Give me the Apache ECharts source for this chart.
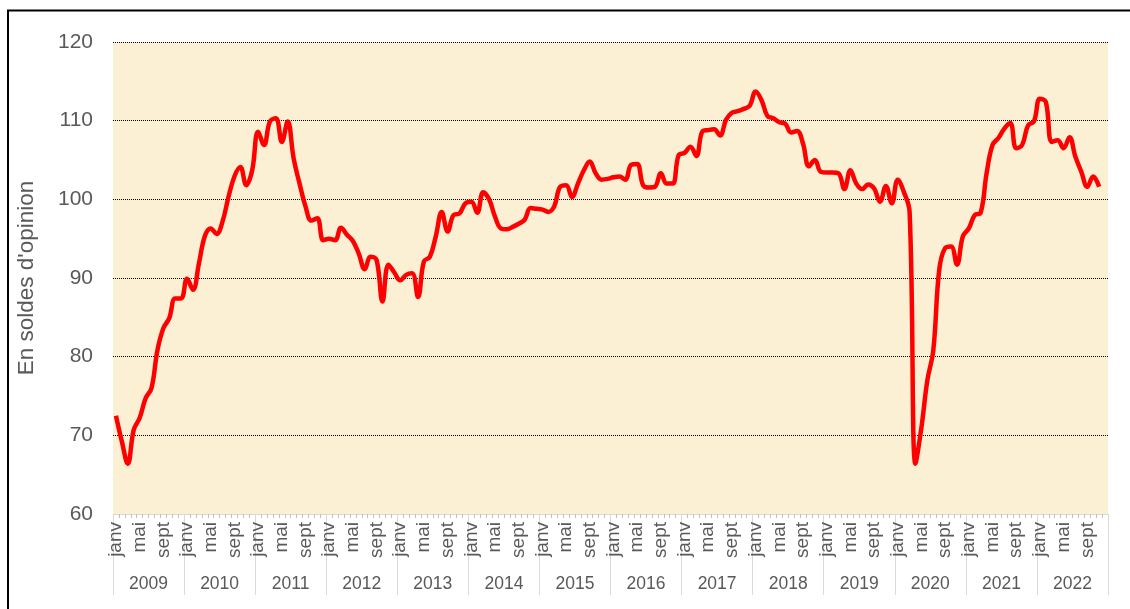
<!DOCTYPE html>
<html>
<head>
<meta charset="utf-8">
<script src="https://cdn.jsdelivr.net/npm/echarts@6/dist/echarts.min.js"></script>
<style>
html,body{margin:0;padding:0;background:#fff;}
#chart{width:1130px;height:609px;}
</style>
</head>
<body>
<div id="chart"></div>
<script>
const monthNames = ['janv','févr','mars','avr','mai','juin','juil','août','sept','oct','nov','déc'];
const years = ['2009','2010','2011','2012','2013','2014','2015','2016','2017','2018','2019','2020','2021','2022'];
const yTicks = [60, 70, 80, 90, 100, 110, 120];
const yTitle = "En soldes d'opinion";

const v2009 = [72.5, 69.2, 66.4, 70.7, 72.2, 74.7, 76.0, 80.8, 83.6, 84.9, 87.4, 87.4];
const v2010 = [89.9, 88.5, 91.8, 95.3, 96.3, 95.6, 97.2, 100.3, 102.9, 104.1, 101.8, 103.7];
const v2011 = [108.6, 106.9, 109.9, 110.3, 107.3, 109.9, 105.2, 102.0, 99.1, 97.3, 97.6, 94.8];
const v2012 = [95.0, 94.8, 96.4, 95.5, 94.7, 93.1, 91.1, 92.7, 92.3, 87.0, 91.7, 90.7];
const v2013 = [89.7, 90.4, 90.6, 87.6, 92.1, 92.7, 95.3, 98.4, 95.9, 98.0, 98.2, 99.5];
const v2014 = [99.7, 98.3, 100.9, 100.0, 97.8, 96.3, 96.2, 96.5, 96.9, 97.4, 98.9, 98.8];
const v2015 = [98.7, 98.4, 99.1, 101.6, 101.8, 100.3, 102.0, 103.7, 104.8, 103.3, 102.5, 102.6];
const v2016 = [102.8, 102.9, 102.5, 104.4, 104.5, 101.8, 101.5, 101.6, 103.3, 102.0, 102.0, 105.6];
const v2017 = [105.9, 106.7, 105.5, 108.6, 108.8, 108.9, 108.1, 110.1, 111.0, 111.2, 111.5, 111.9];
const v2018 = [113.7, 112.6, 110.6, 110.3, 109.8, 109.6, 108.5, 108.7, 107.1, 104.2, 105.0, 103.5];
const v2019 = [103.4, 103.4, 103.3, 101.3, 103.7, 102.0, 101.3, 101.9, 101.4, 99.7, 101.7, 99.5];
const v2020 = [102.5, 101.0, 98.4, 66.4, 71.0, 77.0, 80.8, 91.0, 93.8, 94.0, 91.7, 95.3];
const v2021 = [96.3, 98.0, 98.3, 103.3, 106.9, 107.8, 109.0, 109.7, 106.5, 106.9, 109.4, 109.9];
const v2022 = [112.8, 112.4, 107.3, 107.5, 106.5, 107.9, 105.4, 103.5, 101.6, 102.9, 101.6, null];

const values = [].concat(v2009, v2010, v2011, v2012, v2013, v2014, v2015, v2016, v2017, v2018, v2019, v2020, v2021, v2022);
const months = [];
years.forEach(function(y){ monthNames.forEach(function(m){ months.push(m); }); });

const FONT = "'Liberation Sans', Arial, sans-serif";
const chart = echarts.init(document.getElementById('chart'), null, {renderer: 'canvas'});
chart.setOption({
  backgroundColor: '#ffffff',
  animation: false,
  grid: {left: 113, top: 42, right: 22, bottom: 95, backgroundColor: '#FBEFD4', show: true, borderWidth: 0},
  graphic: [{
    type: 'rect', silent: true, z: 100,
    shape: {x: 8, y: 10.5, width: 1300, height: 800},
    style: {fill: 'none', stroke: '#000', lineWidth: 2}
  }],
  xAxis: [{
    type: 'category', data: months, boundaryGap: true, position: 'bottom',
    axisLine: {show: true, lineStyle: {color: '#D9D9D9', width: 1}},
    axisTick: {show: true, interval: 0, length: 4, lineStyle: {color: '#BFBFBF', width: 1}},
    axisLabel: {interval: 3, rotate: 90, margin: 8, color: '#595959', fontSize: 19, fontFamily: FONT},
    splitLine: {show: false}
  }, {
    type: 'category', data: years, boundaryGap: true, position: 'bottom', offset: 0,
    axisLine: {show: false},
    axisTick: {show: true, interval: 0, length: 81, lineStyle: {color: '#D9D9D9', width: 1}},
    axisLabel: {interval: 0, margin: 61, color: '#595959', fontSize: 17.5, fontFamily: FONT},
    splitLine: {show: false}
  }],
  yAxis: {
    type: 'value', min: yTicks[0], max: yTicks[yTicks.length - 1], interval: 10,
    name: yTitle, nameLocation: 'middle', nameGap: 75,
    nameTextStyle: {color: '#595959', fontSize: 22.5, fontFamily: FONT},
    axisLine: {show: false}, axisTick: {show: false},
    axisLabel: {margin: 20, color: '#595959', fontSize: 21, fontFamily: FONT},
    splitLine: {show: true, showMinLine: false, lineStyle: {color: '#000', type: 'dotted', width: 1}}
  },
  series: [{
    type: 'line', xAxisIndex: 0, data: values, smooth: 0.4, showSymbol: false,
    connectNulls: false,
    lineStyle: {color: '#FF0000', width: 4.5}, itemStyle: {color: '#FF0000'}, z: 5
  }]
});
</script>
</body>
</html>
